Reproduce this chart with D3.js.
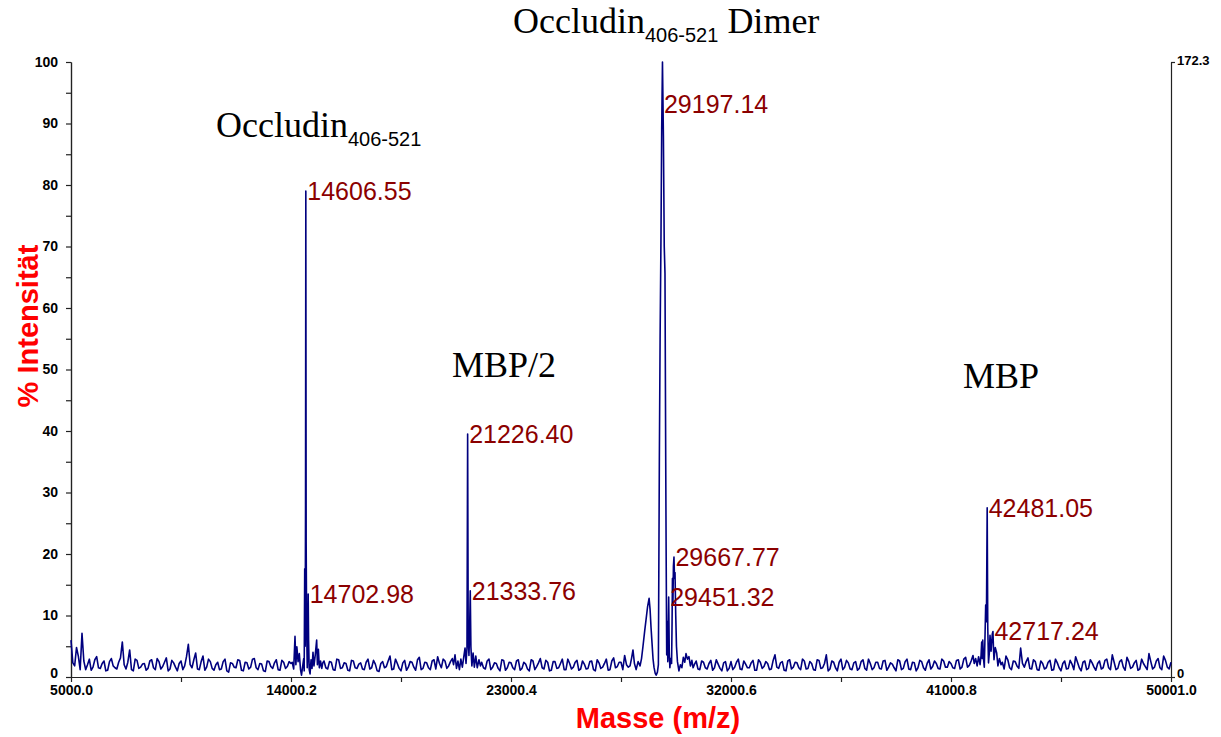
<!DOCTYPE html>
<html>
<head>
<meta charset="utf-8">
<script src="https://cdn.jsdelivr.net/npm/d3@7/dist/d3.min.js"></script>
<style>
  body { margin: 0; background: #ffffff; }
  svg { display: block; }
</style>
</head>
<body>
<svg id="chart" width="1221" height="737"></svg>
<script>
// ---- axis definitions ----
const massDomain = [5000.0, 50001.0];
const xTickValues = [5000.0, 14000.2, 23000.4, 32000.6, 41000.8, 50001.0];
const xMinorTicks = [9500.1, 18500.3, 27500.5, 36500.7, 45500.9];
const yTickValues = [0, 10, 20, 30, 40, 50, 60, 70, 80, 90, 100];
const yMinorTicks = [5, 15, 25, 35, 45, 55, 65, 75, 85, 95];
const rightAxisMax = 172.3;

// ---- baseline noise (% intensity) ----
// noise[i] sits at noiseStart + i*noiseStep, noiseMid[j] at noiseStart + noiseStep/2 + j*noiseStep
// null = region covered by one of the peak profiles below
const noiseStart = 5000;
const noiseStep = 150;
const noise = [
  6.0, 1.8, 3.4, 7.1, 1.2, 2.9, 1.6, 3.3, 1.4, 2.6, 1.1, 3.0, 1.5, 2.4, 5.7, 1.3, 4.4, 1.0, 2.7, 1.6,
  2.2, 1.4, 2.8, 1.2, 2.5, 1.7, 3.1, 1.3, 2.3, 1.0, 2.6, 1.8, 5.3, 1.5, 3.9, 1.2, 3.4, 1.6, 2.5, 1.1,
  2.4, 1.3, 2.9, 0.8, 2.2, 1.5, 2.7, 1.0, 2.3, 1.6, 3.0, 1.2, 2.1, 0.9, 2.5, 1.4, 2.8, 1.1, 2.4, 1.7,
  2.2, null, null, null, null, null, null, null, null, 2.6, 1.3, 2.4, 1.1, 2.8, 1.5, 2.2, 1.0, 2.6, 1.4, 2.3,
  1.2, 2.9, 1.5, 2.1, 0.9, 2.5, 1.7, 3.4, 1.3, 2.2, 1.0, 2.7, 1.6, 2.4, 1.1, 3.2, 1.4, 2.3, 1.2, 2.8,
  3.3, 1.5, 2.6, 1.8, 3.0, null, null, null, null, null, null, null, 2.4, 1.3, 2.9, 1.6, 2.2, 1.0, 2.7, 1.5,
  2.3, 1.2, 2.8, 1.4, 2.1, 1.0, 2.6, 1.7, 3.0, 1.3, 2.4, 1.1, 2.5, 1.5, 2.9, 1.2, 2.2, 1.6, 2.7, 1.3,
  2.1, 1.4, 2.6, 1.0, 2.3, 1.6, 2.9, 1.2, 3.1, 1.7, 2.4, 3.5, 1.6, null, null, null, null, null, null, null,
  null, null, null, null, null, null, null, null, null, null, 2.0, 1.3, 2.6, 1.5, 2.2, 1.1, 2.8, 1.4, 2.3, 1.0,
  2.5, 1.6, 2.9, 1.2, 2.1, 1.5, 2.7, 1.1, 2.4, 1.7, 2.2, 1.3, 3.6, 1.4, 2.5, 1.0, 2.8, 1.6, 2.3, 1.2,
  2.6, 1.4, 2.2, 1.1, 2.7, 1.5, 3.6, 1.3, 2.4, 1.0, 2.9, 1.6, 2.3, 1.2, 2.5, 1.4, 2.8, 1.1, 2.2, 1.5,
  2.4, 1.3, 2.7, 1.6, 2.1, 1.0, 2.6, 1.4, 2.9, 1.2, 2.3, 1.5, 2.5, 1.1, 2.8, 1.7, 2.2, 1.3, 2.6, 1.6,
  2.2, 1.4, 2.8, 1.6, 3.2, 1.9, 3.5, null, null, null, null, null, null, null, 2.4, 3.4, 1.5, 2.6, 1.8, 4.7,
  1.6, 3.1, 1.3, 2.5, 1.1, 2.2, 1.5, 2.7, 1.2, 2.3, 1.0, 2.6, 1.4, 2.1, 3.3, 1.5, 2.4, 1.2, 2.8, 1.6,
  2.2, 1.3, 2.7, 1.5, 3.6, 1.2, 2.5, 1.6, 3.2, 1.4, 2.3, 1.1, 2.9, 1.7, 3.8, 1.3, 2.6, 1.5, 3.4, 1.6, 2.4
];
const noiseMid = [
  2.3, 4.8, 1.2, 2.6, 2.0, 1.1, 2.8, 1.5, 2.2, 1.0, 2.5, 1.8, 1.3, 3.1, 2.0, 2.4, 1.2, 2.9, 1.4, 2.1,
  1.1, 2.6, 1.5, 3.0, 1.3, 2.4, 1.0, 2.7, 1.6, 2.2, 1.2, 3.3, 2.0, 2.8, 1.3, 2.5, 1.1, 2.9, 1.4, 2.0,
  1.2, 2.5, 1.0, 2.3, 1.6, 2.8, 1.1, 2.4, 1.3, 2.9, 1.5, 2.2, 1.0, 2.6, 1.7, 2.3, 1.2, 2.7, 1.4, 2.5,
  null, null, null, null, null, null, null, null, null, 1.5, 2.5, 1.2, 2.9, 1.4, 2.3, 1.1, 2.7, 1.5, 2.1, 1.3,
  2.4, 1.3, 2.7, 1.0, 2.2, 1.5, 2.6, 1.2, 2.9, 1.4, 2.3, 1.1, 2.5, 1.6, 2.8, 1.2, 2.4, 1.5, 2.6, 1.3,
  2.2, 2.9, 1.4, 2.5, null, null, null, null, null, null, null, null, 1.5, 2.6, 1.2, 2.3, 1.4, 2.8, 1.1, 2.4,
  1.5, 2.6, 1.1, 2.4, 1.3, 2.8, 1.2, 2.3, 1.5, 2.7, 1.0, 2.5, 1.4, 2.2, 1.2, 2.9, 1.3, 2.4, 1.1, 2.6,
  1.3, 2.5, 1.2, 2.8, 1.4, 2.2, 1.1, 2.6, 1.5, 2.4, 1.2, 2.0, null, null, null, null, null, null, null, null,
  null, null, null, null, null, null, null, null, null, null, 2.6, 1.2, 2.4, 1.3, 2.7, 1.5, 2.1, 1.0, 2.5, 1.4,
  1.2, 2.4, 1.3, 2.6, 1.5, 2.3, 1.1, 2.8, 1.4, 2.5, 1.2, 2.7, 1.6, 2.3, 1.1, 2.6, 1.3, 2.4, 1.5, 2.9,
  1.3, 2.5, 1.2, 2.8, 1.4, 2.2, 1.0, 2.6, 1.5, 2.4, 1.2, 2.7, 1.3, 2.3, 1.1, 2.5, 1.4, 2.9, 1.2, 2.4,
  1.4, 2.6, 1.1, 2.3, 1.5, 2.8, 1.2, 2.5, 1.3, 2.4, 1.0, 2.7, 1.5, 2.2, 1.3, 2.6, 1.4, 2.9, 1.6, 2.5,
  1.5, 2.7, 1.3, 2.9, 1.6, 2.6, null, null, null, null, null, null, null, null, 1.3, 2.8, 1.2, 2.5, 1.4, 2.2,
  2.5, 1.4, 2.8, 1.2, 2.6, 1.3, 2.4, 1.1, 2.9, 1.5, 2.2, 1.3, 2.7, 1.2, 2.4, 1.0, 2.6, 1.4, 2.3, 1.1,
  2.6, 1.5, 2.9, 1.2, 2.4, 1.4, 2.8, 1.1, 2.5, 1.6, 2.7, 1.3, 2.2, 1.2, 2.5, 1.6, 3.0, 1.2, 2.7, 1.3
];

// ---- peak profiles: [m/z, % intensity] ----
const occludinPeak = [
  [14050, 2.4], [14110, 1.3], [14164, 6.6], [14200, 2.0], [14240, 4.9], [14290, 2.5], [14340, 3.8],
  [14390, 1.2], [14430, 0.3], [14480, 1.8], [14520, 3.0], [14540, 1.0], [14561, 17.6], [14580, 5.0],
  [14595, 28], [14606.55, 79], [14620, 22], [14640, 8], [14665, 1.5], [14685, 4], [14702.98, 13.5],
  [14720, 6], [14745, 1.2], [14780, 0.5], [14820, 2.8], [14860, 1.4], [14900, 4.0], [14940, 1.8],
  [14990, 3.5], [15050, 6.0], [15080, 2.0], [15120, 4.5], [15160, 1.5], [15210, 2.6], [15260, 1.4],
  [15300, 2.3]
];
const mbpHalfPeak = [
  [20650, 2.0], [20710, 3.6], [20770, 1.4], [20830, 2.6], [20890, 1.2], [20950, 2.9], [21010, 1.6],
  [21070, 3.3], [21120, 4.7], [21160, 2.2], [21200, 4.7], [21226.40, 39.5], [21250, 6.5], [21280, 3.5],
  [21300, 6.0], [21333.76, 14], [21360, 4.9], [21400, 1.8], [21450, 3.9], [21500, 1.6], [21560, 3.4],
  [21620, 1.5], [21690, 2.8], [21750, 1.8]
];
const dimerPeak = [
  [27870, 1.8], [27930, 3.0], [27990, 4.4], [28050, 2.2], [28120, 1.2], [28200, 2.5], [28280, 1.8],
  [28340, 3.0], [28400, 5.0], [28470, 7.5], [28530, 9.5], [28590, 11.5], [28650, 12.8], [28690, 11],
  [28730, 8], [28770, 5.5], [28810, 3.0], [28850, 1.6], [28900, 0.6], [28940, 0.3], [28990, 0.8],
  [29030, 2.0], [29070, 35.7], [29100, 55], [29135, 71], [29165, 89], [29197.14, 100], [29235, 88],
  [29270, 70], [29300, 65.6], [29330, 35], [29345, 22], [29370, 3.6], [29395, 9], [29415, 2.5],
  [29451.32, 13], [29475, 4], [29500, 1.5], [29530, 3.0], [29570, 2.2], [29590, 9], [29605, 16],
  [29625, 12], [29645, 18], [29667.77, 19.5], [29690, 16], [29710, 17], [29740, 10], [29770, 5],
  [29810, 2.5], [29870, 1.0], [29930, 2.0], [29990, 1.5], [30050, 3.2], [30110, 2.4], [30160, 3.8],
  [30220, 2.9], [30280, 3.3], [30340, 1.8], [30400, 2.7], [30450, 1.5]
];
const mbpPeak = [
  [41950, 2.2], [42010, 3.0], [42070, 1.8], [42130, 3.3], [42190, 2.0], [42230, 3.5], [42256, 5.7],
  [42280, 3.0], [42300, 6.0], [42330, 3.0], [42363, 1.6], [42400, 8], [42420, 11.7], [42450, 9],
  [42481.05, 27.5], [42505, 8], [42535, 2.3], [42570, 4], [42597, 6.8], [42640, 4.2], [42690, 7.0],
  [42717.24, 7.4], [42740, 4.5], [42760, 2.8], [42810, 4.8], [42870, 3.9], [42920, 1.8], [42980, 3.0],
  [43050, 2.0]
];

// ---- labelled peak masses ----
const labelledMasses = [14606.55, 14702.98, 21226.40, 21333.76, 29197.14, 29451.32, 29667.77, 42481.05, 42717.24];

// ---- build the spectrum ----
const profiles = [occludinPeak, mbpHalfPeak, dimerPeak, mbpPeak];
const spectrum = noise
  .map((v, i) => [noiseStart + i * noiseStep, v])
  .concat(noiseMid.map((v, j) => [noiseStart + noiseStep / 2 + j * noiseStep, v]))
  .filter(d => d[1] !== null)
  .concat(...profiles)
  .sort((a, b) => a[0] - b[0]);

const svg = d3.select("#chart");
const plot = { left: 71, right: 1171, top: 62, bottom: 677 };

const x = d3.scaleLinear().domain(massDomain).range([plot.left, plot.right]);
const y = d3.scaleLinear().domain([0, 100]).range([plot.bottom, plot.top]);
const yRight = d3.scaleLinear().domain([0, rightAxisMax]).range([plot.bottom, plot.top]);

const sans = "Arial, 'Liberation Sans', sans-serif";

// left axis: minor ticks, then major ticks with labels
svg.append("g").attr("transform", `translate(${plot.left},0)`)
  .call(d3.axisLeft(y).tickValues(yMinorTicks).tickSize(5).tickSizeOuter(0).tickFormat(""));
const gLeft = svg.append("g").attr("transform", `translate(${plot.left},0)`)
  .call(d3.axisLeft(y).tickValues(yTickValues).tickSize(5).tickSizeOuter(0).tickPadding(8).tickFormat(d3.format("d")));

// bottom axis
svg.append("g").attr("transform", `translate(0,${plot.bottom})`)
  .call(d3.axisBottom(x).tickValues(xMinorTicks).tickSize(5).tickSizeOuter(0).tickFormat(""));
svg.append("g").attr("transform", `translate(0,${plot.bottom})`)
  .call(d3.axisBottom(x).tickValues(xTickValues).tickSize(5).tickSizeOuter(0).tickPadding(3).tickFormat(d3.format(".1f")));

// right axis
const gRight = svg.append("g").attr("transform", `translate(${plot.right},0)`)
  .call(d3.axisRight(yRight).tickValues([0, rightAxisMax]).tickSize(4).tickSizeOuter(0).tickPadding(2)
    .tickFormat(d => d === 0 ? "0" : d3.format(".1f")(d)));

svg.selectAll(".tick text")
  .attr("font-family", sans).attr("font-size", 14).attr("font-weight", "bold")
  .attr("fill", "#000");
svg.selectAll(".domain, .tick line").attr("stroke", "#222").attr("stroke-width", 1.2);
gRight.selectAll(".tick text").attr("font-size", 13).attr("dy", "0.2em");
// the zero labels sit just above the corner so they clear the mass labels
gLeft.selectAll(".tick text").filter(d => d === 0).attr("dy", "0.05em");
gRight.selectAll(".tick text").filter(d => d === 0).attr("dy", "0.05em");

// spectrum trace
const line = d3.line().x(d => x(d[0])).y(d => y(d[1]));
svg.append("path")
  .datum(spectrum)
  .attr("fill", "none")
  .attr("stroke", "#00007f")
  .attr("stroke-width", 1.6)
  .attr("stroke-linejoin", "round")
  .attr("d", line);

// peak mass labels
const lookup = new Map(spectrum.map(d => [d[0], d[1]]));
svg.append("g").selectAll("text")
  .data(labelledMasses)
  .join("text")
  .attr("x", m => x(m) + 1.5)
  .attr("y", m => Math.max(y(lookup.get(m)), plot.top + 42))
  .attr("dominant-baseline", "central")
  .attr("font-family", sans).attr("font-size", 25)
  .attr("fill", "#8b0000")
  .text(m => d3.format(".2f")(m));

// axis titles
svg.append("text")
  .attr("transform", "translate(28,326) rotate(-90)")
  .attr("text-anchor", "middle")
  .attr("dominant-baseline", "central")
  .attr("font-family", sans).attr("font-size", 29).attr("font-weight", "bold")
  .attr("fill", "#ff0000")
  .text("% Intensität");

svg.append("text")
  .attr("x", 658).attr("y", 728)
  .attr("text-anchor", "middle")
  .attr("font-family", sans).attr("font-size", 29).attr("font-weight", "bold")
  .attr("fill", "#ff0000")
  .text("Masse (m/z)");

// species annotations
const serif = "'Liberation Serif', 'Times New Roman', serif";
function annotate(xPos, yPos, main, sub, tail) {
  const t = svg.append("text")
    .attr("x", xPos).attr("y", yPos)
    .attr("font-family", serif).attr("font-size", 36)
    .attr("fill", "#000");
  t.append("tspan").text(main);
  if (sub) {
    t.append("tspan")
      .attr("dy", 9)
      .attr("font-family", sans)
      .attr("font-size", 20)
      .text(sub);
  }
  if (tail) {
    t.append("tspan").attr("dy", -9).text(tail);
  }
}
annotate(513, 33, "Occludin", "406-521", "\u00a0Dimer");
annotate(216, 137, "Occludin", "406-521");
annotate(452, 377, "MBP/2");
annotate(963, 388, "MBP");
</script>
</body>
</html>
